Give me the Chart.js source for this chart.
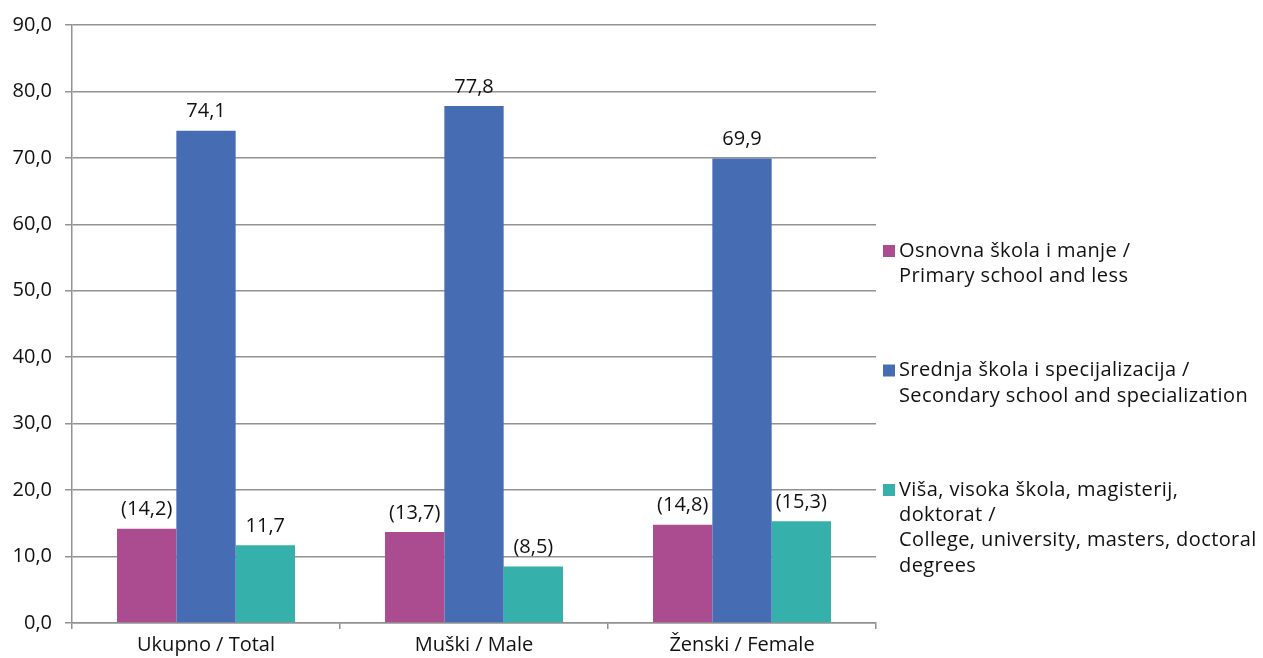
<!DOCTYPE html>
<html>
<head>
<meta charset="utf-8">
<script src="https://cdn.jsdelivr.net/npm/chart.js@4/dist/chart.umd.min.js"></script>
<style>
html,body{margin:0;padding:0;background:#fff;}
#wrap{width:1263px;height:658px;position:relative;}
</style>
</head>
<body>
<div id="wrap"><canvas id="c" width="1263" height="658"></canvas></div>
<script>
const categories = ['Ukupno / Total', 'Muški / Male', 'Ženski / Female'];
const primaryValues = [14.2, 13.7, 14.8];
const secondaryValues = [74.1, 77.8, 69.9];
const tertiaryValues = [11.7, 8.5, 15.3];
const primaryLabels = ['(14,2)', '(13,7)', '(14,8)'];
const secondaryLabels = ['74,1', '77,8', '69,9'];
const tertiaryLabels = ['11,7', '(8,5)', '(15,3)'];
const seriesNames = [
  ['Osnovna škola i manje /', 'Primary school and less'],
  ['Srednja škola i specijalizacija /', 'Secondary school and specialization'],
  ['Viša, visoka škola, magisterij,', 'doktorat /', 'College, university, masters, doctoral', 'degrees']
];
const yTicks = [0, 10, 20, 30, 40, 50, 60, 70, 80, 90];

const FONT = '"Open Sans", sans-serif';
const colors = ['#AB4C91', '#466DB4', '#35B0AA'];
const labelSets = [primaryLabels, secondaryLabels, tertiaryLabels];
const GRID = '#929292';

const dataLabelPlugin = {
  id: 'dataLabels',
  afterDatasetsDraw(chart) {
    const ctx = chart.ctx;
    ctx.save();
    ctx.font = '20px ' + FONT;
    ctx.fillStyle = '#111';
    ctx.textAlign = 'center';
    ctx.textBaseline = 'middle';
    chart.data.datasets.forEach((ds, i) => {
      const meta = chart.getDatasetMeta(i);
      meta.data.forEach((bar, j) => {
        ctx.fillText(labelSets[i][j], bar.x, bar.y - 19);
      });
    });
    ctx.restore();
  }
};

const legendPlugin = {
  id: 'customLegend',
  afterDraw(chart) {
    const ctx = chart.ctx;
    const ca = chart.chartArea;
    const x0 = ca.right + 7;
    ctx.save();
    ctx.font = '20px ' + FONT;
    try { ctx.letterSpacing = '0.4px'; } catch (e) {}
    ctx.textBaseline = 'middle';
    ctx.textAlign = 'left';
    seriesNames.forEach((lines, i) => {
      const y = 251 + i * 119.5;
      ctx.fillStyle = colors[i];
      ctx.fillRect(x0, y - 6, 12, 12);
      ctx.fillStyle = '#111';
      lines.forEach((t, k) => {
        ctx.fillText(t, x0 + 16, y + k * 25.3);
      });
    });
    ctx.restore();
  }
};

new Chart(document.getElementById('c'), {
  type: 'bar',
  data: {
    labels: categories,
    datasets: [
      { label: seriesNames[0].join(' '), data: primaryValues, backgroundColor: colors[0] },
      { label: seriesNames[1].join(' '), data: secondaryValues, backgroundColor: colors[1] },
      { label: seriesNames[2].join(' '), data: tertiaryValues, backgroundColor: colors[2] }
    ]
  },
  options: {
    responsive: false,
    animation: false,
    devicePixelRatio: 1,
    layout: { padding: { left: 0, right: 387, top: 23, bottom: 0 } },
    datasets: { bar: { barPercentage: 1, categoryPercentage: 0.664 } },
    plugins: { legend: { display: false }, tooltip: { enabled: false } },
    scales: {
      x: {
        grid: { display: true, drawOnChartArea: false, drawTicks: true, tickLength: 6, color: GRID, lineWidth: 1.5, offset: true },
        border: { display: true, color: GRID, width: 1.5 },
        ticks: { color: '#111', font: { size: 20, family: FONT }, padding: 4 },
        afterFit(scale) { scale.height = 35; }
      },
      y: {
        min: 0, max: 90,
        afterBuildTicks(scale) { scale.ticks = yTicks.map(v => ({ value: v })); },
        grid: { color: GRID, lineWidth: 1.5, tickLength: 7, drawTicks: true },
        border: { display: true, color: GRID, width: 1.5 },
        ticks: {
          color: '#111', font: { size: 20, family: FONT }, padding: 13,
          callback: v => v.toFixed(1).replace('.', ',')
        },
        afterFit(scale) { scale.width = 72; }
      }
    }
  },
  plugins: [dataLabelPlugin, legendPlugin]
});
</script>
</body>
</html>
